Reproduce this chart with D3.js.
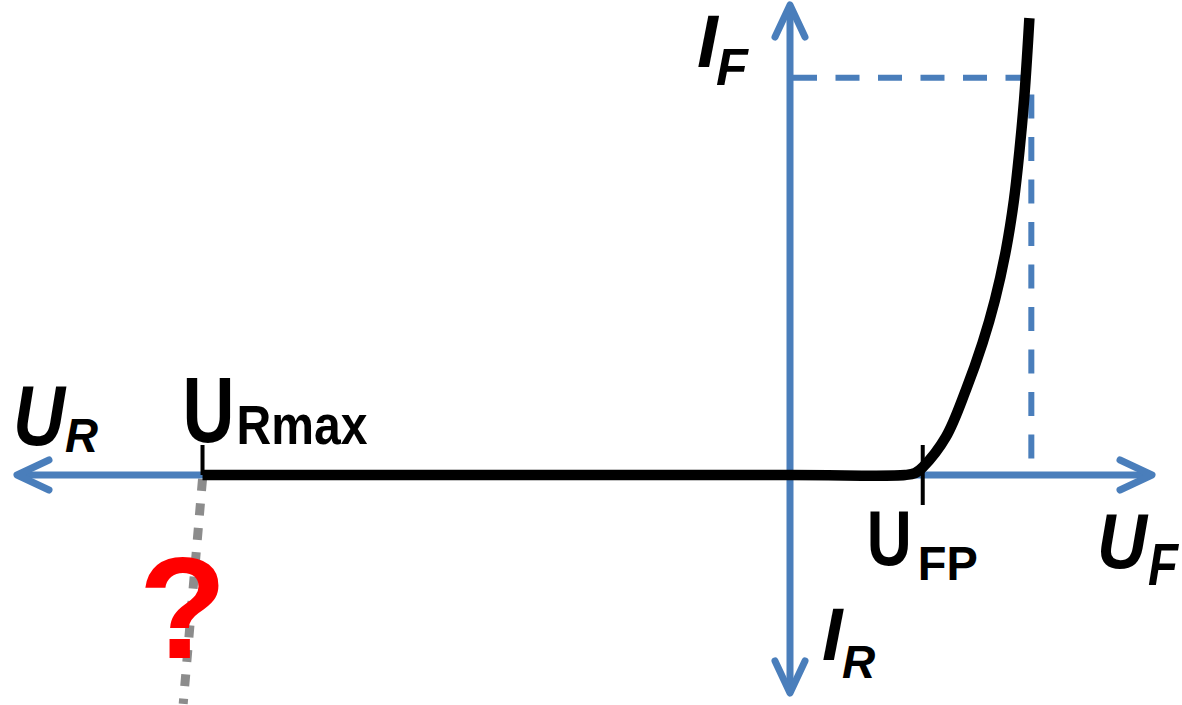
<!DOCTYPE html>
<html>
<head>
<meta charset="utf-8">
<script src="https://cdn.jsdelivr.net/npm/d3@7"></script>
<style>
  html, body { margin: 0; padding: 0; background: #fff; }
  svg { display: block; }
  text { font-family: "Liberation Sans", Arial, sans-serif; font-weight: bold; fill: #000; }
</style>
</head>
<body>
<svg id="chart" width="1182" height="705"></svg>
<script>
// Diode I-U characteristic (qualitative): voltage in V, current in mA.
// Axis extents (piecewise: reverse / forward ranges use different scaling)
const voltageDomain = [-100, 0, 1.5];
const currentDomain = [-40, 0, 100];

// Forward branch of the characteristic
const forwardU = [0, 0.477, 0.518, 0.551, 0.646, 0.729, 0.798, 0.849, 0.895, 0.928, 0.951, 0.970, 0.984, 0.992];
const forwardI = [0, 0, 0.4, 1.7, 8.1, 18.1, 28.1, 37.2, 47.9, 58.5, 69.1, 79.8, 90.4, 97.2];

// Reverse branch (blocking region) up to the maximum reverse voltage
const reverseU = [-76, 0];
const reverseI = [0, 0];

// Unknown behaviour beyond U_Rmax
const breakdownU = [-76, -78.5];
const breakdownI = [0, -42];

// Marked operating point
const pointU = 1.0;
const pointI = 84.5;

// Characteristic voltages
const uRmax = -76;
const uFP = 0.55;

const blue = "#4a7ebb";
const svg = d3.select("#chart");
svg.append("rect").attr("width", 1182).attr("height", 705).attr("fill", "#fff");

const x = d3.scaleLinear().domain(voltageDomain).range([17, 790, 1152]);
const y = d3.scaleLinear().domain(currentDomain).range([693, 475, 5]);

const x0 = x(0), y0 = y(0);

// Breakdown region: grey dotted line
svg.append("line")
  .attr("x1", x(breakdownU[0])).attr("y1", y(breakdownI[0]) + 4)
  .attr("x2", x(breakdownU[1])).attr("y2", y(breakdownI[1]))
  .attr("stroke", "#8c8c8c").attr("stroke-width", 9)
  .attr("stroke-dasharray", "12,12.5");

// Axes with arrowheads
const axisG = svg.append("g")
  .attr("stroke", blue).attr("stroke-width", 7)
  .attr("fill", "none").attr("stroke-linecap", "round").attr("stroke-linejoin", "round");

const uMin = x(voltageDomain[0]), uMax = x(voltageDomain[2]);
const iMin = y(currentDomain[0]), iMax = y(currentDomain[2]);
axisG.append("line").attr("x1", uMin + 3).attr("x2", uMax - 3).attr("y1", y0).attr("y2", y0);
axisG.append("line").attr("x1", x0).attr("x2", x0).attr("y1", iMax + 3).attr("y2", iMin - 3);

const al = 32, aw = 15;
const arrow = d3.line();
axisG.append("path").attr("d", arrow([[uMin + al, y0 - aw], [uMin, y0], [uMin + al, y0 + aw]]));
axisG.append("path").attr("d", arrow([[uMax - al, y0 - aw], [uMax, y0], [uMax - al, y0 + aw]]));
axisG.append("path").attr("d", arrow([[x0 - aw, iMax + al], [x0, iMax], [x0 + aw, iMax + al]]));
axisG.append("path").attr("d", arrow([[x0 - aw, iMin - al], [x0, iMin], [x0 + aw, iMin - al]]));

// Dashed guide to the operating point
svg.append("path")
  .attr("d", d3.line()([[x0 + 3, y(pointI)], [x(pointU), y(pointI)], [x(pointU), y0]]))
  .attr("fill", "none").attr("stroke", blue).attr("stroke-width", 6)
  .attr("stroke-dasharray", "24,18.5");

// Characteristic curve
const reversePts = reverseU.map((u, k) => [x(u), y(reverseI[k])]);
const forwardPts = forwardU.map((u, k) => [x(u), y(forwardI[k])]);
const curvePts = reversePts.concat(forwardPts.slice(1));
svg.append("path")
  .attr("d", d3.line().curve(d3.curveCatmullRom.alpha(0.5))(curvePts))
  .attr("fill", "none").attr("stroke", "#000").attr("stroke-width", 10.5)
  .attr("stroke-linejoin", "round");

// Tick marks for U_Rmax and U_FP
svg.append("line")
  .attr("x1", x(uRmax)).attr("x2", x(uRmax)).attr("y1", y0 - 30).attr("y2", y0)
  .attr("stroke", "#000").attr("stroke-width", 4);
svg.append("line")
  .attr("x1", x(uFP)).attr("x2", x(uFP)).attr("y1", y0 - 30).attr("y2", y0 + 30)
  .attr("stroke", "#000").attr("stroke-width", 4);

// Labels: main letter plus subscript
function label(main, sub, mx, my, ms, sx, sy, ss, italic, opts = {}) {
  const g = svg.append("g");
  const t1 = g.append("text").attr("x", mx).attr("y", my).attr("font-size", ms)
    .attr("font-style", italic ? "italic" : "normal").text(main);
  const t2 = g.append("text").attr("x", sx).attr("y", sy).attr("font-size", ss)
    .attr("font-style", italic ? "italic" : "normal").text(sub);
  if (opts.mainLen) t1.attr("textLength", opts.mainLen).attr("lengthAdjust", "spacingAndGlyphs");
  if (opts.subLen) t2.attr("textLength", opts.subLen).attr("lengthAdjust", "spacingAndGlyphs");
  return g;
}

// Axis names
label("I", "F", x0 - 93, iMax + 62, 75, x0 - 74, iMax + 80, 52, true);
label("U", "R", uMin - 4, y0 - 30, 86, uMin + 48, y0 - 23, 49, true, { mainLen: 52, subLen: 33 });
label("U", "F", uMax - 55, y0 + 93, 78, uMax - 4, y0 + 110, 59, true, { mainLen: 50, subLen: 30 });
label("I", "R", x0 + 32, iMin - 33, 74, x0 + 52, iMin - 15, 46, true);

// Characteristic voltage names
label("U", "Rmax", x(uRmax) - 20, y0 - 33, 92, x(uRmax) + 34, y0 - 31, 55, false, { mainLen: 52, subLen: 131 });
label("U", "FP", x(uFP) - 56, y0 + 90, 78, x(uFP) - 5, y0 + 105, 49, false, { mainLen: 45, subLen: 60 });

// Unknown region marker
svg.append("text")
  .attr("x", x((breakdownU[0] + breakdownU[1]) / 2) - 10)
  .attr("y", 658)
  .attr("text-anchor", "middle")
  .attr("font-size", 144)
  .style("fill", "#ff0000")
  .text("?");
</script>
</body>
</html>
